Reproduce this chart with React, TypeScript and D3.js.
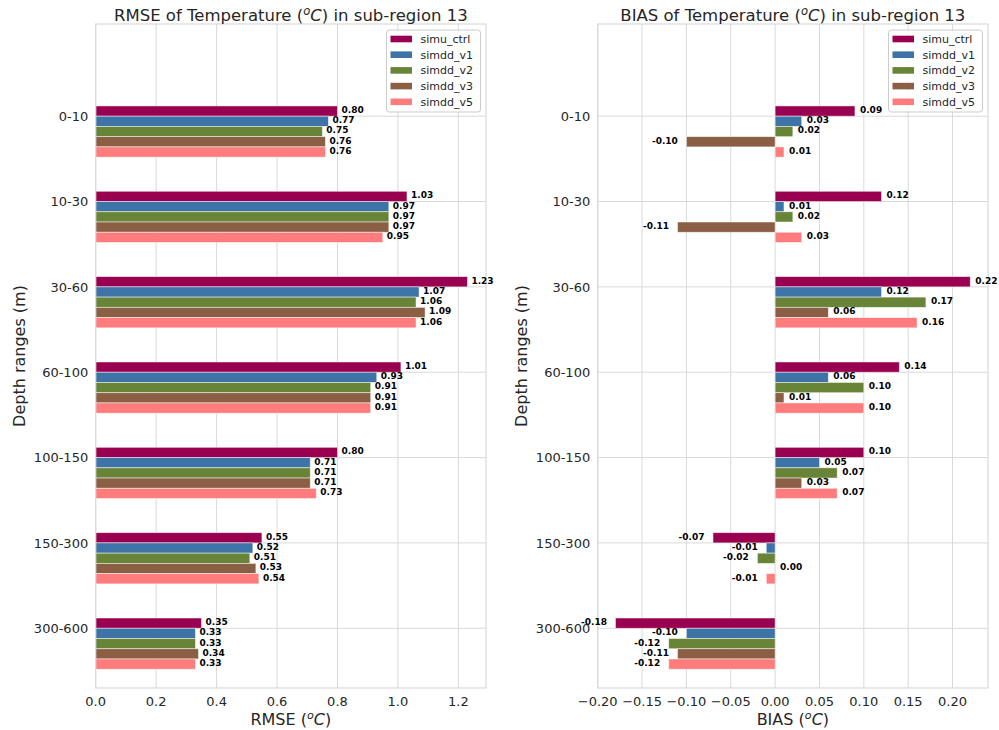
import React from 'react';
import * as d3 from 'd3';

const depths = ['0-10', '10-30', '30-60', '60-100', '100-150', '150-300', '300-600'];
const seriesNames = ['simu_ctrl', 'simdd_v1', 'simdd_v2', 'simdd_v3', 'simdd_v5'];
const seriesColors = ['#990050', '#3E73A8', '#688437', '#8B5F44', '#FF7C7C'];

const rmseCtrl = [0.80, 1.03, 1.23, 1.01, 0.80, 0.55, 0.35];
const rmseV1 = [0.77, 0.97, 1.07, 0.93, 0.71, 0.52, 0.33];
const rmseV2 = [0.75, 0.97, 1.06, 0.91, 0.71, 0.51, 0.33];
const rmseV3 = [0.76, 0.97, 1.09, 0.91, 0.71, 0.53, 0.34];
const rmseV5 = [0.76, 0.95, 1.06, 0.91, 0.73, 0.54, 0.33];

const biasCtrl = [0.09, 0.12, 0.22, 0.14, 0.10, -0.07, -0.18];
const biasV1 = [0.03, 0.01, 0.12, 0.06, 0.05, -0.01, -0.10];
const biasV2 = [0.02, 0.02, 0.17, 0.10, 0.07, -0.02, -0.12];
const biasV3 = [-0.10, -0.11, 0.06, 0.01, 0.03, 0.00, -0.11];
const biasV5 = [0.01, 0.03, 0.16, 0.10, 0.07, -0.01, -0.12];

const rmseTicks = [0, 0.2, 0.4, 0.6, 0.8, 1.0, 1.2];
const biasTicks = [-0.2, -0.15, -0.1, -0.05, 0, 0.05, 0.1, 0.15, 0.2];

const FONT = 'DejaVu Sans';
const TXT = '#262626';
const GRID = '#d9d9d9';
const BAR_H = 0.12;

const TOP = 24;
const BOTTOM = 688;

const yScale = d3.scaleLinear().domain([-1.02, 6.76]).range([TOP, BOTTOM]);

function Unit({ prefix, suffix }: { prefix: string; suffix: string }) {
  return (
    <>
      {prefix}
      <tspan fontStyle="italic" fontSize="0.7em" dy={-6}>o</tspan>
      <tspan fontStyle="italic" dy={6}>C</tspan>
      {suffix}
    </>
  );
}

function Panel(props: {
  left: number;
  right: number;
  domain: [number, number];
  ticks: number[];
  fmt: (v: number) => string;
  series: number[][];
  title: string;
  xlabel: string;
  posOff: number;
  negOff: number;
}) {
  const { left, right, domain, ticks, fmt, series, title, xlabel, posOff, negOff } = props;
  const x = d3.scaleLinear().domain(domain).range([left, right]);
  const x0 = x(0);
  const cx = (left + right) / 2;
  const legW = 94;
  const legX = right - 5.5 - legW;
  const legY = TOP + 6;
  return (
    <g fontFamily={FONT}>
      {ticks.map((t, i) => (
        <line key={'gx' + i} x1={x(t)} x2={x(t)} y1={TOP} y2={BOTTOM} stroke={GRID} strokeWidth={1} />
      ))}
      {depths.map((d, i) => (
        <line key={'gy' + i} x1={left} x2={right} y1={yScale(i + BAR_H / 2)} y2={yScale(i + BAR_H / 2)} stroke={GRID} strokeWidth={1} />
      ))}
      {series.map((vals, s) =>
        vals.map((v, i) => {
          const yc = i + s * BAR_H;
          const y1 = yScale(yc - BAR_H / 2);
          const y2 = yScale(yc + BAR_H / 2);
          const xa = Math.min(x(v), x0);
          const w = Math.abs(x(v) - x0);
          return (
            <rect key={'b' + s + '-' + i} x={xa} y={y1} width={w} height={y2 - y1}
              fill={seriesColors[s]} stroke="#ffffff" strokeOpacity={0.6} strokeWidth={0.8} />
          );
        })
      )}
      <rect x={left} y={TOP} width={right - left} height={BOTTOM - TOP} fill="none" stroke={GRID} strokeWidth={1.2} />
      {series.map((vals, s) =>
        vals.map((v, i) => {
          const yc = yScale(i + s * BAR_H);
          const neg = v < 0;
          return (
            <text key={'l' + s + '-' + i} x={neg ? x(v) - negOff : x(v) + posOff} y={yc + 1.9}
              textAnchor={neg ? 'end' : 'start'} fontSize={9} fontWeight="bold" fill="#000">
              {v.toFixed(2)}
            </text>
          );
        })
      )}
      {ticks.map((t, i) => (
        <text key={'tx' + i} x={x(t)} y={706} textAnchor="middle" fontSize={13} fill={TXT}>
          {fmt(t)}
        </text>
      ))}
      {depths.map((d, i) => (
        <text key={'ty' + i} x={left - 7.5} y={yScale(i + BAR_H / 2) + 4.7} textAnchor="end" fontSize={13} fill={TXT}>
          {d}
        </text>
      ))}
      <text x={cx} y={725} textAnchor="middle" fontSize={16} fill={TXT}>
        <Unit prefix={xlabel + ' ('} suffix=")" />
      </text>
      <text transform={`translate(${left - 70.7},${(TOP + BOTTOM) / 2}) rotate(-90)`} textAnchor="middle" fontSize={16} fill={TXT}>
        Depth ranges (m)
      </text>
      <text x={cx} y={21} textAnchor="middle" fontSize={16.5} fill={TXT}>
        <Unit prefix={title + ' ('} suffix=") in sub-region 13" />
      </text>
      <rect x={legX} y={legY} width={legW} height={82} rx={3} ry={3} fill="#ffffff" fillOpacity={0.8} stroke="#cccccc" strokeWidth={1} />
      {seriesNames.map((n, s) => {
        const cy = legY + 9 + s * 15.7;
        return (
          <g key={'lg' + s}>
            <rect x={legX + 4} y={cy - 3.3} width={21.5} height={6.6} fill={seriesColors[s]} />
            <text x={legX + 34} y={cy + 4} fontSize={11} fill={TXT}>{n}</text>
          </g>
        );
      })}
    </g>
  );
}

export default function App() {
  const fmt1 = d3.format('.1f');
  const fmt2 = d3.format('.2f');
  return (
    <svg width={999} height={730} style={{ position: 'absolute', left: 0, top: 0, background: '#fff' }}>
      <rect x={0} y={0} width={999} height={730} fill="#fff" />
      <Panel left={95.7} right={486} domain={[0, 1.2915]} ticks={rmseTicks} fmt={fmt1}
        series={[rmseCtrl, rmseV1, rmseV2, rmseV3, rmseV5]} title="RMSE of Temperature" xlabel="RMSE"
        posOff={4} negOff={8.5} />
      <Panel left={597.7} right={988} domain={[-0.2, 0.24]} ticks={biasTicks} fmt={fmt2}
        series={[biasCtrl, biasV1, biasV2, biasV3, biasV5]} title="BIAS of Temperature" xlabel="BIAS"
        posOff={5} negOff={8.5} />
    </svg>
  );
}
